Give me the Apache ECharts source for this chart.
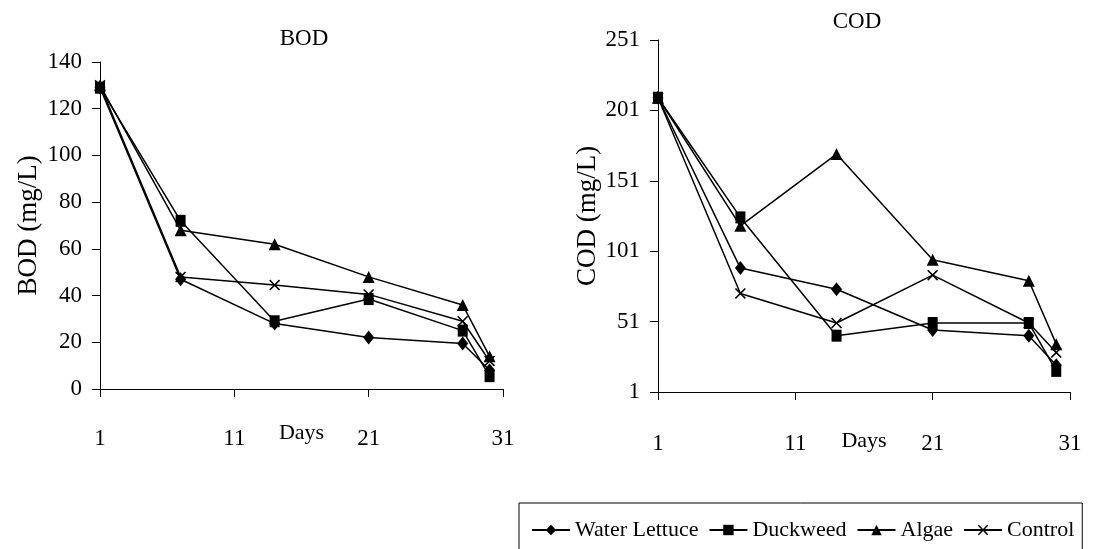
<!DOCTYPE html>
<html>
<head>
<meta charset="utf-8">
<script src="https://cdn.jsdelivr.net/npm/echarts@6/dist/echarts.min.js"></script>
<style>
html, body { margin: 0; padding: 0; background: #fff; }
#main1 { width: 1102px; height: 549px; }
</style>
</head>
<body>
<div id="main1"></div>
<script>
// sampling days
var days = [1, 7, 14, 21, 28, 30];
var seriesNames = ['Water Lettuce', 'Duckweed', 'Algae', 'Control'];

// BOD (mg/L)
var bodWaterLettuce = [129, 47, 28, 22, 19.5, 8];
var bodDuckweed = [129, 72, 29, 38.5, 25, 5.5];
var bodAlgae = [130, 68, 62, 48, 36, 14];
var bodControl = [130, 48, 44.5, 40.5, 29, 12];

// COD (mg/L)
var codWaterLettuce = [210, 89, 74, 45, 41, 20];
var codDuckweed = [210, 125, 41, 50, 50, 16];
var codAlgae = [210, 119, 170, 95, 80, 35];
var codControl = [210, 71, 50, 84, 50, 29];

var font = 'Liberation Serif';
var crossPath = 'path://M0,1 L1,0 L5,4 L9,0 L10,1 L6,5 L10,9 L9,10 L5,6 L1,10 L0,9 L4,5 Z';
var symbols = ['diamond', 'rect', 'triangle', crossPath];
var symbolSizes = [[11, 14], [10, 12], [12, 12], [11, 11]];

function pairs(vals) {
    return days.map(function (d, i) { return [d, vals[i]]; });
}

function makeSeries(name, vals, gridIdx) {
    var k = seriesNames.indexOf(name);
    return {
        name: name,
        type: 'line',
        xAxisIndex: gridIdx,
        yAxisIndex: gridIdx,
        data: pairs(vals),
        symbol: symbols[k],
        symbolSize: symbolSizes[k],
        showAllSymbol: true,
        animation: false,
        lineStyle: { color: '#000', width: 1.5 },
        itemStyle: { color: '#000', borderWidth: 0 },
        z: 10 - k
    };
}

function axisX(gridIdx, margin, nameGap) {
    return {
        type: 'value',
        gridIndex: gridIdx,
        min: 1,
        max: 31,
        interval: 10,
        name: 'Days',
        nameLocation: 'middle',
        nameGap: nameGap,
        nameMoveOverlap: false,
        nameTextStyle: { fontFamily: font, fontSize: 22, color: '#000' },
        axisLine: { show: true, onZero: false, lineStyle: { color: '#000', width: 1 } },
        axisTick: { show: true, length: 8, lineStyle: { color: '#000' } },
        axisLabel: { margin: margin, fontFamily: font, fontSize: 23, color: '#000' },
        splitLine: { show: false }
    };
}

function axisY(gridIdx, min, max, interval, name, nameGap) {
    return {
        type: 'value',
        gridIndex: gridIdx,
        min: min,
        max: max,
        interval: interval,
        name: name,
        nameLocation: 'middle',
        nameRotate: 90,
        nameGap: nameGap,
        nameTextStyle: { fontFamily: font, fontSize: 27, color: '#000' },
        axisLine: { show: true, onZero: false, lineStyle: { color: '#000', width: 1 } },
        axisTick: { show: true, length: 8, lineStyle: { color: '#000' } },
        axisLabel: { margin: 18, fontFamily: font, fontSize: 23, color: '#000' },
        splitLine: { show: false }
    };
}

var myChart = echarts.init(document.getElementById('main1'));
var option = {
    backgroundColor: '#fff',
    animation: false,
    graphic: [
        { type: 'text', x: 304, y: 39, style: { text: 'BOD', fontFamily: font, fontSize: 23, fill: '#000', align: 'center', verticalAlign: 'middle' } },
        { type: 'text', x: 857, y: 22, style: { text: 'COD', fontFamily: font, fontSize: 23, fill: '#000', align: 'center', verticalAlign: 'middle' } }
    ],
    legend: {
        data: seriesNames,
        left: 519,
        top: 503,
        padding: [16, 8, 20, 12],
        itemWidth: 38,
        itemHeight: 13,
        itemGap: 10,
        borderColor: '#000',
        borderWidth: 1,
        textStyle: { fontFamily: font, fontSize: 22, color: '#000' }
    },
    grid: [
        { left: 100, top: 62, width: 403, height: 327 },
        { left: 658, top: 40, width: 412, height: 352 }
    ],
    xAxis: [axisX(0, 38, 33), axisX(1, 40, 38)],
    yAxis: [
        axisY(0, 0, 140, 20, 'BOD (mg/L)', 58),
        axisY(1, 1, 251, 50, 'COD (mg/L)', 50)
    ],
    series: [
        makeSeries('Water Lettuce', bodWaterLettuce, 0),
        makeSeries('Duckweed', bodDuckweed, 0),
        makeSeries('Algae', bodAlgae, 0),
        makeSeries('Control', bodControl, 0),
        makeSeries('Water Lettuce', codWaterLettuce, 1),
        makeSeries('Duckweed', codDuckweed, 1),
        makeSeries('Algae', codAlgae, 1),
        makeSeries('Control', codControl, 1)
    ]
};
myChart.setOption(option);
</script>
</body>
</html>
